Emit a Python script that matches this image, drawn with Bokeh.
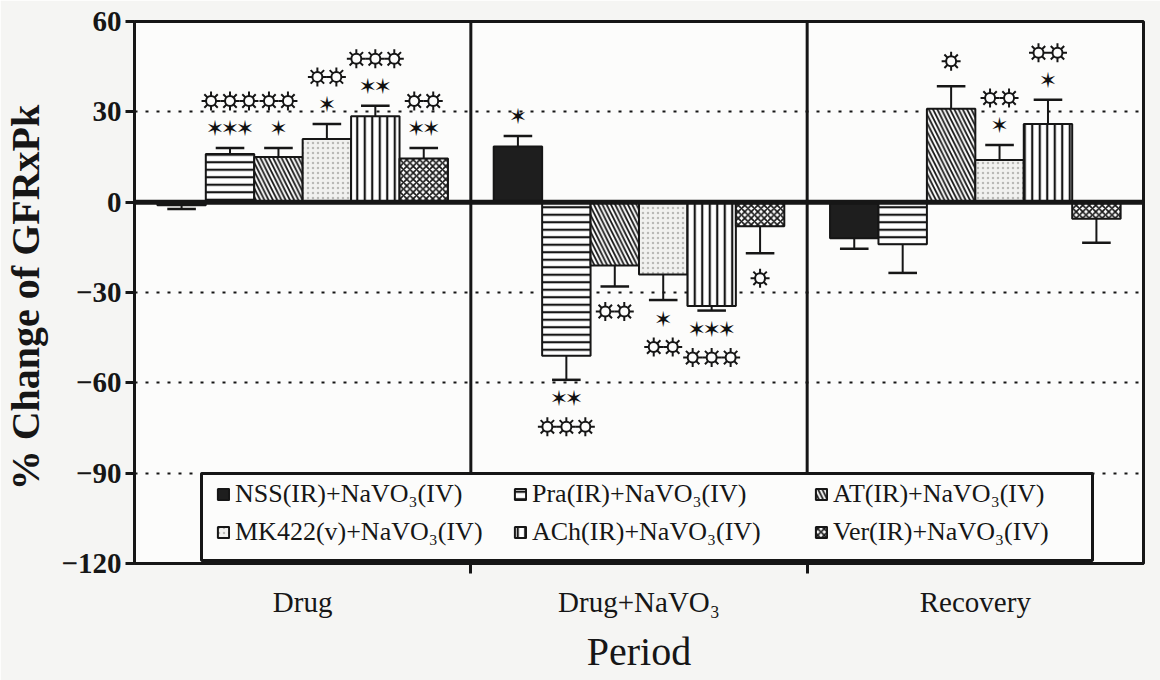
import numpy as np
from bokeh.plotting import figure
from bokeh.models import (Range1d, FixedTicker, Span, Legend, LegendItem,
                          ColumnDataSource, BoxAnnotation)
from bokeh.embed import file_html
from bokeh.resources import INLINE
from bokeh.core.properties import value

# ---- data -------------------------------------------------------------
periods = ["Drug", "Drug+NaVO\u2083", "Recovery"]
groups = ["NSS(IR)+NaVO\u2083(IV)", "Pra(IR)+NaVO\u2083(IV)", "AT(IR)+NaVO\u2083(IV)",
          "MK422(v)+NaVO\u2083(IV)", "ACh(IR)+NaVO\u2083(IV)", "Ver(IR)+NaVO\u2083(IV)"]

# mean % change of GFRxPk in each period
nss = [-1.0, 18.5, -12.0]
pra = [16.0, -51.0, -14.0]
at = [15.0, -21.0, 31.0]
mk = [21.0, -24.0, 14.0]
ach = [28.5, -34.5, 26.0]
ver = [14.5, -8.0, -5.5]

# standard errors
nss_err = [1.3, 3.5, 3.5]
pra_err = [2.0, 8.0, 9.5]
at_err = [3.0, 7.0, 7.5]
mk_err = [5.0, 8.5, 5.0]
ach_err = [3.5, 1.5, 8.0]
ver_err = [3.5, 9.0, 8.0]

# significance marks: count of asterisks and of sun symbols
nss_star, nss_sun = [0, 1, 0], [0, 0, 0]
pra_star, pra_sun = [3, 2, 0], [3, 3, 0]
at_star, at_sun = [1, 0, 0], [2, 2, 1]
mk_star, mk_sun = [1, 1, 1], [2, 2, 2]
ach_star, ach_sun = [2, 3, 1], [3, 3, 2]
ver_star, ver_sun = [2, 0, 0], [2, 1, 0]

y_ticks = [-120, -90, -60, -30, 0, 30, 60]

means = [nss, pra, at, mk, ach, ver]
errs = [nss_err, pra_err, at_err, mk_err, ach_err, ver_err]
stars = [nss_star, pra_star, at_star, mk_star, ach_star, ver_star]
suns = [nss_sun, pra_sun, at_sun, mk_sun, ach_sun, ver_sun]

# ---- layout and styles -----------------------------------------------
W, H = 1160, 680
B_LEFT, B_RIGHT, B_TOP, B_BOTTOM = 133, 17, 21, 117
FRAME_W = W - B_LEFT - B_RIGHT
FRAME_H = H - B_TOP - B_BOTTOM
PX_X = FRAME_W / len(periods)                 # pixels per x unit
PX_Y = FRAME_H / (y_ticks[-1] - y_ticks[0])   # pixels per y unit

INK = "#161616"
BG = "#fcfcfb"
SERIF = "Liberation Serif, DejaVu Serif, serif"
SYMBOL = "DejaVu Sans"
STAR = "\u2736"
styles = [
    dict(fill_color="#1e1e1e", hatch_pattern=None),
    dict(fill_color="white", hatch_pattern="horizontal_line"),
    dict(fill_color="white", hatch_pattern="left_diagonal_line"),
    dict(fill_color="#f1f1ef", hatch_pattern="dot"),
    dict(fill_color="white", hatch_pattern="vertical_line"),
    dict(fill_color="white", hatch_pattern="diagonal_cross"),
]
BAR_W = 0.144
CAP_W = 0.085

p = figure(width=W, height=H, output_backend="svg", toolbar_location=None,
           x_range=Range1d(0, len(periods)), y_range=Range1d(y_ticks[0], y_ticks[-1]),
           min_border_left=B_LEFT, min_border_right=B_RIGHT, min_border_top=B_TOP,
           min_border_bottom=B_BOTTOM)
p.background_fill_color = BG
p.border_fill_color = "#f5f5f3"
p.outline_line_color = INK
p.outline_line_width = 3
p.outline_line_alpha = 1.0

# grid: dotted reference lines
p.xgrid.visible = False
p.ygrid.ticker = FixedTicker(ticks=[t for t in y_ticks if t != 0])
p.ygrid.grid_line_color = INK
p.ygrid.grid_line_dash = "3 8"
p.ygrid.grid_line_width = 2

# y axis
p.yaxis.ticker = FixedTicker(ticks=y_ticks)
p.yaxis.axis_label = "% Change of  GFRxPk"
p.yaxis.axis_label_text_font = SERIF
p.yaxis.axis_label_text_font_style = "bold"
p.yaxis.axis_label_text_font_size = "40px"
p.yaxis.axis_label_text_color = INK
p.yaxis.axis_label_standoff = 10
p.yaxis.major_label_text_font = SERIF
p.yaxis.major_label_text_font_style = "bold"
p.yaxis.major_label_text_font_size = "29px"
p.yaxis.major_label_text_color = INK
p.yaxis.major_label_standoff = 4
p.yaxis.major_tick_out = 9
p.yaxis.major_tick_in = 0
p.yaxis.major_tick_line_width = 3
p.yaxis.major_tick_line_color = INK
p.yaxis.minor_tick_line_color = None
p.yaxis.axis_line_width = 3
p.yaxis.axis_line_color = INK

# x axis: period names at the centres, ticks at the boundaries
centres = [i + 0.5 for i in range(len(periods))]
p.xaxis.ticker = FixedTicker(ticks=centres, minor_ticks=list(range(1, len(periods))))
p.xaxis.major_label_overrides = {c: name for c, name in zip(centres, periods)}
p.xaxis.major_tick_line_color = None
p.xaxis.major_tick_out = 0
p.xaxis.major_tick_in = 0
p.xaxis.minor_tick_line_color = INK
p.xaxis.minor_tick_line_width = 3
p.xaxis.minor_tick_out = 10
p.xaxis.minor_tick_in = 0
p.xaxis.axis_line_width = 3
p.xaxis.axis_line_color = INK
p.xaxis.major_label_text_font = SERIF
p.xaxis.major_label_text_font_size = "29px"
p.xaxis.major_label_text_color = INK
p.xaxis.major_label_standoff = 12
p.xaxis.axis_label = "Period"
p.xaxis.axis_label_text_font = SERIF
p.xaxis.axis_label_text_font_style = "normal"
p.xaxis.axis_label_text_font_size = "40px"
p.xaxis.axis_label_text_color = INK
p.xaxis.axis_label_standoff = 8

# period dividers
for b in range(1, len(periods)):
    p.add_layout(Span(location=b, dimension="height", line_color=INK, line_width=3))

renderers = []
star_cols = dict(x=[], y=[], t=[], xo=[], yo=[])
sun_cols = dict(x=[], y=[])
n = len(groups)
for k in range(n):
    m = np.array(means[k], dtype=float)
    e = np.array(errs[k], dtype=float)
    sgn = np.sign(m)
    x = np.array(centres) + (k - (n - 1) / 2) * BAR_W
    tip = m + sgn * e
    src = ColumnDataSource(dict(x=x, top=m, tip=tip, x0=x - CAP_W / 2, x1=x + CAP_W / 2))
    st = styles[k]
    kw = dict(fill_color=st["fill_color"], line_color=INK, line_width=2)
    if st["hatch_pattern"]:
        kw.update(hatch_pattern=st["hatch_pattern"], hatch_color=INK,
                  hatch_scale=7.5, hatch_weight=2.2)
    if st["hatch_pattern"] == "left_diagonal_line":
        kw.update(hatch_scale=8.5, hatch_weight=1.8)
    if st["hatch_pattern"] == "dot":
        kw.update(hatch_color="#b9b9b6", hatch_scale=5, hatch_weight=1.2)
    if st["hatch_pattern"] == "diagonal_cross":
        kw.update(hatch_scale=6.5, hatch_weight=1.7)
    r = p.vbar(x="x", bottom=0, top="top", width=BAR_W, source=src, **kw)
    renderers.append(r)
    p.segment(x0="x", y0="top", x1="x", y1="tip", source=src, line_color=INK, line_width=2)
    p.segment(x0="x0", y0="tip", x1="x1", y1="tip", source=src, line_color=INK, line_width=2.5)

    # significance marks stacked beyond each error bar
    for i in range(len(periods)):
        ns, nu = stars[k][i], suns[k][i]
        for j in range(ns):
            star_cols["x"].append(x[i]); star_cols["y"].append(tip[i])
            star_cols["t"].append(STAR)
            star_cols["xo"].append((j - (ns - 1) / 2) * 15)
            star_cols["yo"].append(-sgn[i] * 19)
        gap = 47 if ns else 25
        for j in range(nu):
            sun_cols["x"].append(x[i] + (j - (nu - 1) / 2) * 19 / PX_X)
            sun_cols["y"].append(tip[i] + sgn[i] * gap / PX_Y)

p.text(x="x", y="y", text="t", x_offset="xo", y_offset="yo",
       source=ColumnDataSource(star_cols), text_font=value(SYMBOL),
       text_font_size="22px", text_color="#111111",
       text_align="center", text_baseline="middle")

# sun symbols: eight rays with a hollow ring on top
sun_src = ColumnDataSource(sun_cols)
p.scatter(x="x", y="y", source=sun_src, marker="asterisk", size=19,
          line_color=INK, line_width=2)
p.scatter(x="x", y="y", source=sun_src, marker="circle", size=10,
          fill_color=BG, line_color=INK, line_width=2)

# zero line
p.add_layout(Span(location=0, dimension="width", line_color=INK, line_width=5))

# legend frame and three legend columns
p.add_layout(BoxAnnotation(left=67, right=958, bottom=3, top=90,
                           left_units="screen", right_units="screen",
                           top_units="screen", bottom_units="screen",
                           fill_color=BG, fill_alpha=1.0,
                           line_color=INK, line_width=3, line_alpha=1.0))
col_x = [82, 379, 680]
for c, cx in enumerate(col_x):
    its = [LegendItem(label=groups[j], renderers=[renderers[j]]) for j in (c, c + 3)]
    p.add_layout(Legend(items=its, orientation="vertical", location=(cx, 16),
                        border_line_color=None, background_fill_alpha=0.0,
                        label_text_font=SERIF, label_text_font_size="26px",
                        label_text_color=INK, glyph_width=14, glyph_height=14,
                        label_standoff=5, spacing=8, padding=0, margin=0,
                        label_height=29))

open("out.html", "w").write(file_html(p, INLINE))
